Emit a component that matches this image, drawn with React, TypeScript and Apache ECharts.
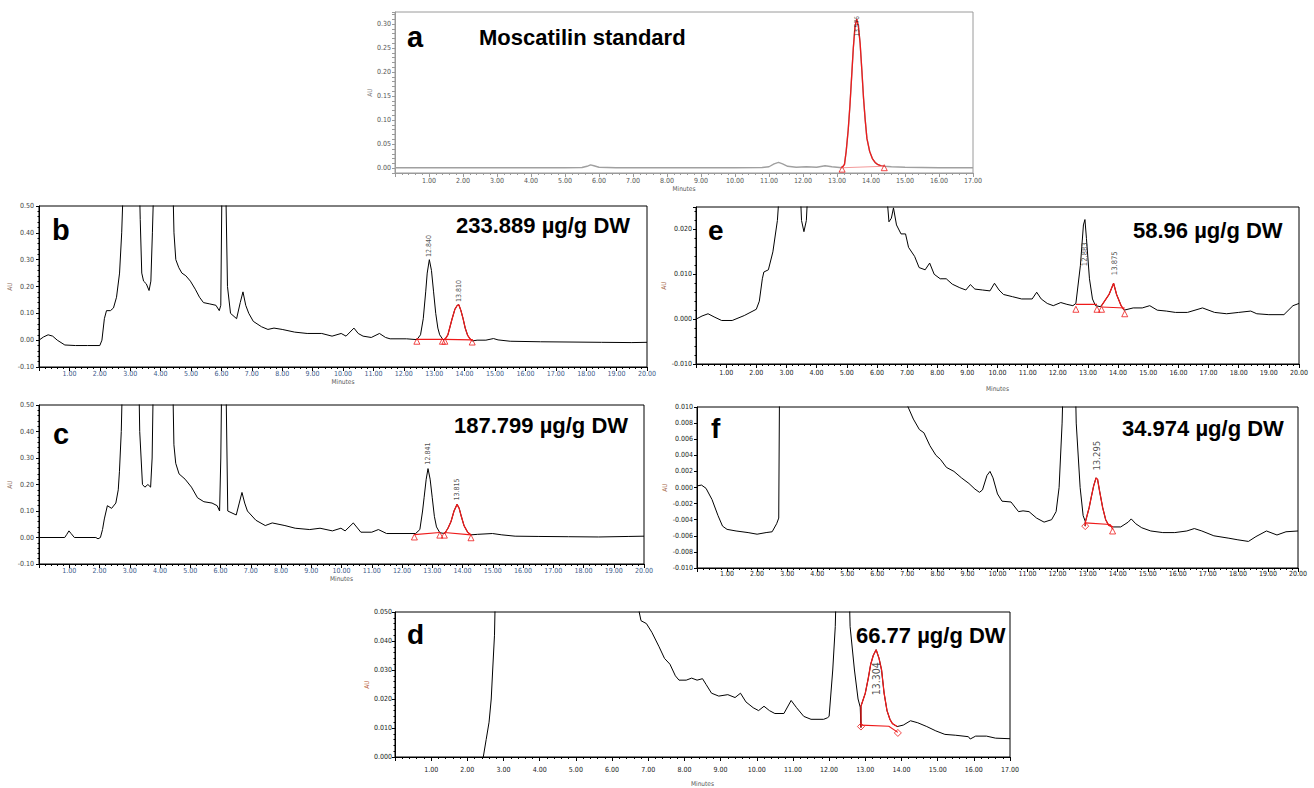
import React, { useEffect, useRef } from 'react';
import * as echarts from 'echarts';

type P = [number, number];
type L = [number, number, string];

// ---------- Panel a (Moscatilin standard) ----------
const traceA1: P[] = [[0, 0.001], [1, 0.001], [2, 0.001], [3, 0.001], [4, 0.001], [5, 0.001], [5.5, 0.0015], [5.65, 0.004], [5.75, 0.007], [5.85, 0.005], [6.0, 0.002], [6.5, 0.001], [7, 0.001], [8, 0.001], [9, 0.001], [10, 0.001], [10.8, 0.0015], [11.0, 0.003], [11.15, 0.009], [11.28, 0.012], [11.4, 0.009], [11.55, 0.004], [11.8, 0.002], [12.1, 0.003], [12.4, 0.002], [12.65, 0.005], [12.85, 0.003], [13.0, 0.002]];
const peakA: P[] = [[13.15, 0.001], [13.22, 0.008], [13.27, 0.035], [13.33, 0.08], [13.38, 0.13], [13.43, 0.19], [13.48, 0.25], [13.53, 0.295], [13.58, 0.31], [13.63, 0.295], [13.68, 0.26], [13.73, 0.205], [13.78, 0.146], [13.83, 0.1], [13.88, 0.062], [13.96, 0.035], [14.04, 0.02], [14.12, 0.012], [14.19, 0.008], [14.3, 0.005], [14.39, 0.004]];
const traceA2: P[] = [[14.6, 0.003], [15, 0.002], [16, 0.001], [17, 0.001]];
const baseA: P[][] = [[[13.15, 0.001], [14.39, 0.004]]];
const triA: P[] = [[13.15, -0.002], [14.39, 0.001]];
const labelsA: L[] = [[13.58, 0.274, '13.576']];

// ---------- Panel b ----------
const traceB1: P[] = [[0, 0.0], [0.15, 0.012], [0.3, 0.02], [0.45, 0.015], [0.6, 0.0], [0.85, -0.018], [1.2, -0.02], [1.6, -0.02], [2.0, -0.02], [2.07, 0.0], [2.15, 0.08], [2.22, 0.11], [2.35, 0.11], [2.45, 0.12], [2.55, 0.16], [2.65, 0.25], [2.72, 0.4], [2.78, 0.6], [3.3, 0.6], [3.33, 0.45], [3.38, 0.25], [3.44, 0.22], [3.53, 0.21], [3.62, 0.185], [3.68, 0.22], [3.73, 0.4], [3.78, 0.6], [4.4, 0.6], [4.44, 0.4], [4.5, 0.3], [4.6, 0.27], [4.7, 0.25], [4.83, 0.24], [4.98, 0.22], [5.14, 0.19], [5.28, 0.16], [5.41, 0.14], [5.62, 0.135], [5.82, 0.13], [5.93, 0.11], [5.98, 0.13], [6.02, 0.6], [6.14, 0.6], [6.2, 0.2], [6.3, 0.1], [6.5, 0.08], [6.62, 0.14], [6.71, 0.18], [6.8, 0.13], [6.9, 0.1], [7.05, 0.07], [7.32, 0.05], [7.53, 0.04], [7.73, 0.045], [8.0, 0.04], [8.41, 0.03], [8.82, 0.025], [9.3, 0.025], [9.64, 0.015], [9.94, 0.025], [10.1, 0.015], [10.36, 0.045], [10.5, 0.025], [10.66, 0.015], [10.93, 0.01], [11.2, 0.025], [11.4, 0.01], [11.55, 0.005], [12.09, 0.005], [12.43, 0.002], [12.55, 0.02], [12.64, 0.08], [12.72, 0.18], [12.77, 0.25], [12.84, 0.30], [12.91, 0.26], [12.98, 0.18], [13.05, 0.1], [13.12, 0.045], [13.18, 0.02], [13.29, 0.002]];
const peakB: P[] = [[13.35, 0.002], [13.45, 0.02], [13.52, 0.05], [13.59, 0.08], [13.68, 0.115], [13.76, 0.13], [13.81, 0.132], [13.88, 0.11], [13.95, 0.08], [14.02, 0.045], [14.1, 0.018], [14.18, 0.005], [14.25, -0.003]];
const traceB2: P[] = [[14.41, 0.0], [14.7, 0.0], [14.95, 0.006], [15.1, 0.001], [15.5, -0.004], [16.5, -0.006], [17.5, -0.007], [18.5, -0.008], [19.5, -0.009], [20, -0.008]];
const baseB: P[][] = [[[12.43, 0.003], [13.29, 0.003]], [[13.33, 0.003], [14.25, 0.001]]];
const triB: P[] = [[12.43, -0.004], [13.27, -0.004], [13.35, -0.004], [14.25, -0.007]];
const labelsB: L[] = [[12.84, 0.31, '12.840'], [13.81, 0.142, '13.810']];

// ---------- Panel c ----------
const traceC1: P[] = [[0, 0.0], [0.85, 0.0], [0.92, 0.012], [0.99, 0.025], [1.06, 0.015], [1.17, 0.0], [1.88, 0.0], [1.95, -0.005], [2.03, 0.0], [2.1, 0.03], [2.16, 0.07], [2.26, 0.12], [2.4, 0.11], [2.54, 0.13], [2.62, 0.18], [2.66, 0.25], [2.72, 0.4], [2.76, 0.6], [3.3, 0.6], [3.33, 0.4], [3.42, 0.2], [3.5, 0.19], [3.6, 0.2], [3.69, 0.19], [3.74, 0.3], [3.78, 0.6], [4.42, 0.6], [4.46, 0.35], [4.52, 0.28], [4.63, 0.24], [4.83, 0.22], [5.04, 0.19], [5.24, 0.15], [5.45, 0.135], [5.72, 0.13], [5.89, 0.12], [5.97, 0.1], [6.01, 0.3], [6.04, 0.6], [6.18, 0.6], [6.24, 0.1], [6.52, 0.085], [6.62, 0.13], [6.71, 0.17], [6.8, 0.13], [6.89, 0.1], [7.17, 0.065], [7.48, 0.045], [7.71, 0.055], [8.13, 0.045], [8.47, 0.035], [8.95, 0.03], [9.29, 0.035], [9.7, 0.025], [9.98, 0.035], [10.12, 0.025], [10.39, 0.055], [10.64, 0.02], [11.0, 0.02], [11.22, 0.03], [11.49, 0.015], [12.45, 0.015], [12.59, 0.03], [12.68, 0.1], [12.73, 0.15], [12.8, 0.22], [12.86, 0.26], [12.93, 0.22], [13.0, 0.15], [13.07, 0.08], [13.14, 0.04], [13.25, 0.018]];
const peakC: P[] = [[13.41, 0.015], [13.52, 0.035], [13.62, 0.06], [13.72, 0.1], [13.82, 0.125], [13.89, 0.11], [13.96, 0.08], [14.05, 0.045], [14.17, 0.02], [14.28, 0.01]];
const traceC2: P[] = [[14.5, 0.012], [14.99, 0.015], [15.3, 0.01], [15.74, 0.005], [16.5, 0.004], [17.5, 0.003], [18.5, 0.002], [19.5, 0.004], [20, 0.005]];
const baseC: P[][] = [[[12.41, 0.011], [13.25, 0.019]], [[13.4, 0.019], [14.28, 0.01]]];
const triC: P[] = [[12.41, 0.002], [13.25, 0.009], [13.4, 0.009], [14.28, -0.001]];
const labelsC: L[] = [[12.86, 0.275, '12.841'], [13.82, 0.14, '13.815']];

// ---------- Panel e ----------
const traceE1: P[] = [[0, 0.0], [0.2, 0.0007], [0.4, 0.0012], [0.6, 0.0005], [0.85, -0.0003], [1.2, -0.0003], [1.6, 0.0008], [2.0, 0.0022], [2.1, 0.004], [2.2, 0.009], [2.25, 0.0105], [2.4, 0.011], [2.55, 0.015], [2.7, 0.022], [2.78, 0.03], [3.45, 0.03], [3.5, 0.022], [3.58, 0.0195], [3.66, 0.022], [3.72, 0.03], [6.3, 0.03], [6.4, 0.0217], [6.48, 0.0225], [6.55, 0.0248], [6.65, 0.021], [6.8, 0.019], [6.95, 0.019], [7.05, 0.016], [7.25, 0.014], [7.4, 0.0115], [7.6, 0.011], [7.75, 0.0125], [7.9, 0.010], [8.1, 0.009], [8.3, 0.009], [8.5, 0.0078], [8.75, 0.007], [8.95, 0.0065], [9.1, 0.0077], [9.25, 0.0067], [9.5, 0.0065], [9.75, 0.0063], [9.9, 0.008], [10.05, 0.0065], [10.2, 0.0055], [10.5, 0.005], [10.8, 0.0045], [11.15, 0.0045], [11.3, 0.006], [11.45, 0.0045], [11.65, 0.0035], [11.85, 0.003], [12.1, 0.0037], [12.3, 0.0033], [12.5, 0.003], [12.6, 0.0035], [12.75, 0.012], [12.85, 0.021], [12.9, 0.0222], [12.95, 0.018], [13.05, 0.009], [13.15, 0.0045], [13.25, 0.003], [13.4, 0.0028]];
const peakE: P[] = [[13.45, 0.003], [13.55, 0.004], [13.7, 0.0055], [13.85, 0.008], [13.95, 0.0055], [14.1, 0.003], [14.2, 0.002]];
const traceE2: P[] = [[14.5, 0.0025], [14.8, 0.0025], [15.05, 0.003], [15.3, 0.002], [15.6, 0.0018], [15.9, 0.0015], [16.3, 0.0015], [16.8, 0.0025], [17.2, 0.0015], [17.6, 0.0012], [18.0, 0.0015], [18.4, 0.0018], [18.6, 0.0012], [19.0, 0.001], [19.5, 0.001], [19.8, 0.003], [20, 0.0035]];
const baseE: P[][] = [[[12.6, 0.0033], [13.3, 0.0033]], [[13.45, 0.0027], [14.22, 0.0025]]];
const triE: P[] = [[12.6, 0.0022], [13.3, 0.0022], [13.45, 0.0022], [14.22, 0.0012]];
const labelsE: L[] = [[12.88, 0.0118, '12.883'], [13.87, 0.0098, '13.875']];

// ---------- Panel f ----------
const traceF1: P[] = [[0, 0.0002], [0.15, 0.0003], [0.3, -0.0001], [0.5, -0.0015], [0.7, -0.0035], [0.85, -0.0048], [1.0, -0.0052], [1.3, -0.0054], [1.7, -0.0056], [2.0, -0.0058], [2.3, -0.0056], [2.5, -0.0055], [2.65, -0.0045], [2.72, -0.0038], [2.75, 0.015], [6.98, 0.015], [7.0, 0.0102], [7.2, 0.0085], [7.4, 0.0072], [7.55, 0.0068], [7.75, 0.0052], [7.95, 0.004], [8.1, 0.0035], [8.3, 0.0025], [8.55, 0.002], [8.8, 0.0012], [9.05, 0.0005], [9.25, -0.0002], [9.4, -0.0006], [9.5, -0.0003], [9.65, 0.0015], [9.75, 0.002], [9.85, 0.0012], [10.0, -0.0008], [10.15, -0.0017], [10.45, -0.0018], [10.7, -0.003], [10.85, -0.0029], [11.05, -0.003], [11.3, -0.0038], [11.55, -0.0043], [11.8, -0.004], [11.95, -0.003], [12.05, 0.0], [12.15, 0.008], [12.2, 0.015], [12.58, 0.015], [12.62, 0.008], [12.75, 0.0], [12.85, -0.0035], [12.92, -0.0042]];
const peakF: P[] = [[12.92, -0.0048], [12.93, -0.0042], [12.98, -0.0035], [13.05, -0.0025], [13.12, -0.0012], [13.2, 0.0002], [13.28, 0.0012], [13.33, 0.001], [13.4, -0.0005], [13.5, -0.0025], [13.6, -0.004], [13.7, -0.0047], [13.85, -0.0049]];
const traceF2: P[] = [[14.1, -0.0049], [14.35, -0.0043], [14.45, -0.0039], [14.6, -0.0045], [14.8, -0.005], [15.1, -0.0054], [15.5, -0.0056], [15.9, -0.0056], [16.3, -0.0054], [16.55, -0.0051], [16.8, -0.0054], [17.2, -0.006], [17.7, -0.0063], [18.0, -0.0065], [18.35, -0.0067], [18.6, -0.0061], [18.95, -0.0054], [19.3, -0.0059], [19.6, -0.0055], [20, -0.0054]];
const baseF: P[][] = [[[12.92, -0.0044], [13.75, -0.0046], [13.83, -0.0052]]];
const triF: P[] = [[13.83, -0.0054]];
const diaF: P[] = [[12.92, -0.0048]];
const labelsF: L[] = [[13.3, 0.0021, '13.295']];

// ---------- Panel d ----------
const traceD1: P[] = [[2.3, -0.005], [2.44, 0.0], [2.52, 0.006], [2.6, 0.012], [2.66, 0.02], [2.7, 0.03], [2.75, 0.042], [2.78, 0.06], [6.72, 0.06], [6.75, 0.05], [6.8, 0.047], [6.95, 0.046], [7.1, 0.043], [7.3, 0.038], [7.45, 0.034], [7.6, 0.032], [7.75, 0.028], [7.85, 0.0265], [8.05, 0.0265], [8.2, 0.0272], [8.35, 0.0265], [8.5, 0.027], [8.6, 0.025], [8.75, 0.022], [8.95, 0.021], [9.2, 0.0215], [9.4, 0.0205], [9.55, 0.022], [9.7, 0.019], [9.9, 0.017], [10.05, 0.016], [10.2, 0.0175], [10.35, 0.016], [10.5, 0.015], [10.75, 0.015], [10.95, 0.0195], [11.1, 0.017], [11.3, 0.014], [11.5, 0.013], [11.85, 0.013], [11.95, 0.0135], [12.0, 0.014], [12.1, 0.03], [12.17, 0.045], [12.2, 0.06], [12.55, 0.06], [12.58, 0.045], [12.7, 0.03], [12.8, 0.02], [12.86, 0.0172]];
const peakD: P[] = [[12.88, 0.0102], [12.88, 0.0175], [13.0, 0.022], [13.08, 0.027], [13.15, 0.032], [13.22, 0.035], [13.3, 0.037], [13.38, 0.034], [13.45, 0.03], [13.52, 0.022], [13.6, 0.016], [13.68, 0.013], [13.75, 0.0115], [13.88, 0.0105]];
const traceD2: P[] = [[14.05, 0.011], [14.25, 0.0125], [14.45, 0.0118], [14.7, 0.0105], [14.95, 0.009], [15.2, 0.0078], [15.5, 0.0075], [15.85, 0.007], [15.9, 0.0062], [16.05, 0.0072], [16.35, 0.0072], [16.6, 0.0065], [17, 0.0063]];
const baseD: P[][] = [[[12.88, 0.011], [13.65, 0.0106], [13.9, 0.0085]]];
const diaD: P[] = [[12.88, 0.0105], [13.9, 0.0083]];
const labelsD: L[] = [[13.3, 0.0213, '13.304']];

// ---------- Texts ----------
const panelLetters = ['a', 'b', 'c', 'e', 'f', 'd'];
const titleA = 'Moscatilin standard';
const concTexts = ['233.889 µg/g DW', '187.799 µg/g DW', '58.96 µg/g DW', '34.974 µg/g DW', '66.77 µg/g DW'];

const RED = '#ee1a1a';
const FONT = "'Liberation Sans', Arial, Helvetica, sans-serif";
const FONT_TICK = "'Liberation Sans Narrow', 'DejaVu Sans Condensed', 'Liberation Sans', Arial, sans-serif";

interface PanelCfg {
  grid: { left: number; top: number; width: number; height: number };
  xMax: number; yMin: number; yMax: number; yInt: number; yStep: number; yDec: number; yMinor: number;
  xLabelColor: string; yLabelColor: string; frame: string; xMargin: number; yMargin: number;
  xName: string; xNameGap: number; yNameGap: number; yNameColor: string;
  trace: P[]; traceColor: string; traceWidth: number;
  reds: P[][]; bases: P[][]; tri: P[]; dia: P[]; labels: L[]; labelSize: number;
}

const panels: PanelCfg[] = [
  { grid: { left: 395, top: 12, width: 578, height: 161 }, xMax: 17, yMin: -0.01, yMax: 0.325, yInt: 0.01, yStep: 0.05, yDec: 2, yMinor: 0,
    xLabelColor: '#555', yLabelColor: '#555', frame: '#9a9a9a', xMargin: 4, yMargin: 4, xName: 'Minutes', xNameGap: 12, yNameGap: 19, yNameColor: '#777',
    trace: [...traceA1, ...peakA, ...traceA2], traceColor: '#a0a0a0', traceWidth: 1.4, reds: [peakA], bases: baseA, tri: triA, dia: [], labels: labelsA, labelSize: 6.5 },
  { grid: { left: 39, top: 206, width: 608, height: 161 }, xMax: 20, yMin: -0.1, yMax: 0.5, yInt: 0.1, yStep: 0.1, yDec: 2, yMinor: 5,
    xLabelColor: '#3d5a8a', yLabelColor: '#444', frame: '#000', xMargin: 3, yMargin: 5, xName: 'Minutes', xNameGap: 11, yNameGap: 22, yNameColor: '#8a6a55',
    trace: [...traceB1, ...peakB, ...traceB2], traceColor: '#000', traceWidth: 1, reds: [peakB], bases: baseB, tri: triB, dia: [], labels: labelsB, labelSize: 7 },
  { grid: { left: 39, top: 405, width: 605, height: 159 }, xMax: 20, yMin: -0.1, yMax: 0.5, yInt: 0.1, yStep: 0.1, yDec: 2, yMinor: 5,
    xLabelColor: '#3d5a8a', yLabelColor: '#444', frame: '#000', xMargin: 3, yMargin: 5, xName: 'Minutes', xNameGap: 11, yNameGap: 22, yNameColor: '#8a6a55',
    trace: [...traceC1, ...peakC, ...traceC2], traceColor: '#000', traceWidth: 1, reds: [peakC], bases: baseC, tri: triC, dia: [], labels: labelsC, labelSize: 7 },
  { grid: { left: 696, top: 207, width: 603, height: 157 }, xMax: 20, yMin: -0.01, yMax: 0.025, yInt: 0.01, yStep: 0.01, yDec: 3, yMinor: 5,
    xLabelColor: '#222', yLabelColor: '#222', frame: '#000', xMargin: 5, yMargin: 4, xName: 'Minutes', xNameGap: 21, yNameGap: 24, yNameColor: '#a0603a',
    trace: [...traceE1, ...peakE, ...traceE2], traceColor: '#000', traceWidth: 1, reds: [peakE], bases: baseE, tri: triE, dia: [], labels: labelsE, labelSize: 7.6 },
  { grid: { left: 697, top: 407, width: 601, height: 161 }, xMax: 20, yMin: -0.01, yMax: 0.01, yInt: 0.002, yStep: 0.002, yDec: 3, yMinor: 0,
    xLabelColor: '#222', yLabelColor: '#222', frame: '#000', xMargin: 2, yMargin: 4, xName: '', xNameGap: 20, yNameGap: 24, yNameColor: '#a0603a',
    trace: [...traceF1, ...peakF, ...traceF2], traceColor: '#000', traceWidth: 1, reds: [peakF], bases: baseF, tri: triF, dia: diaF, labels: labelsF, labelSize: 9.5 },
  { grid: { left: 395, top: 612, width: 615, height: 145 }, xMax: 17, yMin: 0, yMax: 0.05, yInt: 0.01, yStep: 0.01, yDec: 3, yMinor: 5,
    xLabelColor: '#222', yLabelColor: '#222', frame: '#000', xMargin: 9, yMargin: 3, xName: 'Minutes', xNameGap: 23, yNameGap: 21, yNameColor: '#b5552d',
    trace: [...traceD1, ...peakD, ...traceD2], traceColor: '#000', traceWidth: 1, reds: [peakD], bases: baseD, tri: [], dia: diaD, labels: labelsD, labelSize: 10.5 },
];

// text placements (x, vertical middle y, size)
const letterPos: [number, number, number][] = [[407, 37, 29], [52, 230, 29], [53, 434, 29], [708, 230, 28], [711, 428, 28], [407, 634, 28]];
const concPos: [number, number][] = [[456, 225], [454, 425], [1133, 230], [1122, 428], [856, 635]];

function buildOption() {
  const grid: any[] = [];
  const xAxis: any[] = [];
  const yAxis: any[] = [];
  const series: any[] = [];

  panels.forEach((p, i) => {
    grid.push({ ...p.grid, show: true, borderColor: p.frame, borderWidth: 1, backgroundColor: 'transparent' });
    xAxis.push({
      type: 'value', gridIndex: i, min: 0, max: p.xMax, interval: 1,
      axisLine: { show: true, onZero: false, lineStyle: { color: p.frame, width: 1 } },
      axisTick: { show: true, length: 4, lineStyle: { color: p.frame } },
      minorTick: { show: true, splitNumber: 5, length: 2, lineStyle: { color: p.frame } },
      splitLine: { show: false }, minorSplitLine: { show: false },
      axisLabel: { fontSize: 7, color: p.xLabelColor, margin: p.xMargin, fontFamily: FONT_TICK,
        formatter: (v: number) => (v === 0 ? '' : v.toFixed(2)) },
      name: p.xName, nameLocation: 'middle', nameGap: p.xNameGap,
      nameTextStyle: { fontSize: 6.5, color: '#555', fontFamily: FONT_TICK },
    });
    yAxis.push({
      type: 'value', gridIndex: i, min: p.yMin, max: p.yMax, interval: p.yInt,
      axisLine: { show: true, onZero: false, lineStyle: { color: p.frame, width: 1 } },
      axisTick: { show: true, length: 3, lineStyle: { color: p.frame } },
      minorTick: { show: p.yMinor > 0, splitNumber: p.yMinor || 5, length: 1.5, lineStyle: { color: p.frame } },
      splitLine: { show: false }, minorSplitLine: { show: false },
      axisLabel: { fontSize: 7, color: p.yLabelColor, margin: p.yMargin, fontFamily: FONT_TICK,
        formatter: (v: number) => {
          const k = v / p.yStep;
          return Math.abs(k - Math.round(k)) < 1e-6 ? v.toFixed(p.yDec) : '';
        } },
      name: 'AU', nameLocation: 'middle', nameGap: p.yNameGap,
      nameTextStyle: { fontSize: 6.5, color: p.yNameColor, fontFamily: FONT_TICK },
    });

    const common = { xAxisIndex: i, yAxisIndex: i, silent: true, animation: false };
    series.push({ ...common, type: 'line', data: p.trace, symbol: 'none', showSymbol: false, clip: true,
      lineStyle: { color: p.traceColor, width: p.traceWidth }, itemStyle: { color: p.traceColor }, z: 2 });
    p.reds.forEach((r) => series.push({ ...common, type: 'line', data: r, symbol: 'none', showSymbol: false, clip: true,
      lineStyle: { color: RED, width: 1.3 }, itemStyle: { color: RED }, z: 3 }));
    p.bases.forEach((b) => series.push({ ...common, type: 'line', data: b, symbol: 'none', showSymbol: false, clip: true,
      lineStyle: { color: i === 0 ? '#f39a9a' : RED, width: 1.1 }, itemStyle: { color: RED }, z: 3 }));
    if (p.tri.length) series.push({ ...common, type: 'scatter', data: p.tri, symbol: 'triangle', symbolSize: 6,
      itemStyle: { color: 'rgba(255,255,255,0)', borderColor: RED, borderWidth: 1 }, z: 4 });
    if (p.dia.length) series.push({ ...common, type: 'scatter', data: p.dia, symbol: 'diamond', symbolSize: 7,
      itemStyle: { color: 'rgba(255,255,255,0)', borderColor: RED, borderWidth: 1 }, z: 4 });
    series.push({ ...common, type: 'scatter', data: p.labels, symbolSize: 1,
      itemStyle: { color: 'rgba(0,0,0,0)' },
      label: { show: true, formatter: (q: any) => q.data[2], rotate: 90, position: 'inside', align: 'left', verticalAlign: 'middle',
        fontSize: p.labelSize, color: '#222', fontFamily: FONT_TICK }, z: 5 });
  });

  const graphic: any[] = [];
  panelLetters.forEach((t, i) => {
    const [x, y, s] = letterPos[i];
    graphic.push({ type: 'text', x, y, style: { text: t, font: `bold ${s}px ${FONT}`, fill: '#000', align: 'left', verticalAlign: 'middle', textAlign: 'left', textVerticalAlign: 'middle' } });
  });
  graphic.push({ type: 'text', x: 479, y: 37.8, style: { text: titleA, font: `bold 22px ${FONT}`, fill: '#000', align: 'left', verticalAlign: 'middle', textAlign: 'left', textVerticalAlign: 'middle' } });
  concTexts.forEach((t, i) => {
    const [x, y] = concPos[i];
    graphic.push({ type: 'text', x, y, style: { text: t, font: `bold 22px ${FONT}`, fill: '#000', align: 'left', verticalAlign: 'middle', textAlign: 'left', textVerticalAlign: 'middle' } });
  });

  return { animation: false, backgroundColor: '#fff', grid, xAxis, yAxis, series, graphic };
}

export default function App() {
  const ref = useRef<HTMLDivElement>(null);
  useEffect(() => {
    if (!ref.current) return;
    const chart = echarts.init(ref.current, undefined, { renderer: 'svg' });
    chart.setOption(buildOption() as any);
    return () => chart.dispose();
  }, []);
  return <div ref={ref} style={{ position: 'fixed', left: 0, top: 0, width: 1314, height: 788, background: '#fff' }} />;
}
